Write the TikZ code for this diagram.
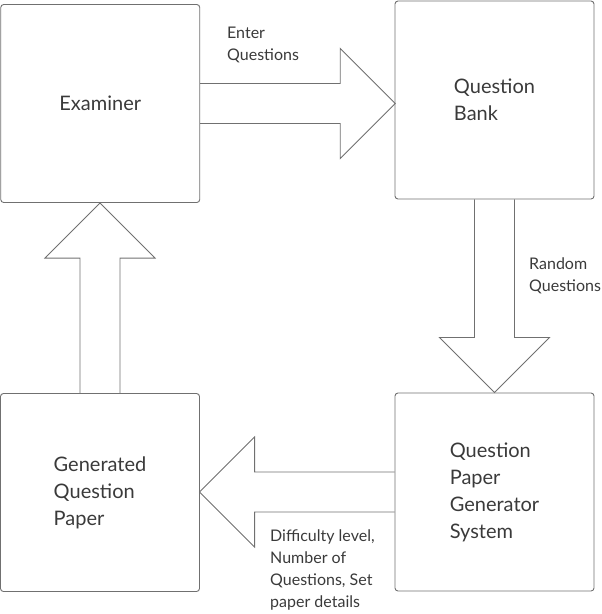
\documentclass[tikz,border=0pt]{standalone}
\usepackage{fontspec}
\setmainfont{Lato}
\usetikzlibrary{positioning,calc}
\definecolor{edgegray}{HTML}{707070}
\definecolor{textgray}{HTML}{3A3A3A}
\tikzset{
  box/.style={draw=edgegray, line width=0.9pt, rounded corners=3pt,
    minimum width=199pt, minimum height=198pt, inner sep=0pt,
    align=left, text=textgray, font=\fontsize{20}{27}\selectfont},
  blockarrow/.style={draw=edgegray, line width=0.9pt, line join=miter},
  note/.style={align=left, anchor=base west, inner sep=0pt,
    text=textgray, font=\fontsize{16}{22}\selectfont}
}

\begin{document}
\begin{tikzpicture}[x=1pt,y=-1pt]
\useasboundingbox (0,0) rectangle (602,614);
% the four blocks
\node[box] (exam) at (100.25,103.5) {Examiner};
\node[box] (qbank) at (494.5,100) {Question\\Bank};
\node[box] (qpgs) at (494.5,492) {Question\\Paper\\Generator\\System};
\node[box] (genq) at (100,492.5) {Generated\\Question\\Paper};
% block arrows
\draw[blockarrow] ($(exam.east)+(0,-20)$) -- ++(140,0) -- ++(0,-35) -- ++(55,55) -- ++(-55,55) -- ++(0,-35) -- ++(-140,0);
\draw[blockarrow] ($(qbank.south)+(-20,0)$) -- ++(0,138) -- ++(-35,0) -- ++(55,55) -- ++(55,-55) -- ++(-35,0) -- ++(0,-138);
\draw[blockarrow] ($(qpgs.west)+(0,-20)$) -- ++(-140,0) -- ++(0,-35) -- ++(-55,55) -- ++(55,55) -- ++(0,-35) -- ++(140,0);
\draw[blockarrow] ($(genq.north)+(-20,0)$) -- ++(0,-135) -- ++(-35,0) -- ++(55,-55) -- ++(55,55) -- ++(-35,0) -- ++(0,135);
% arrow labels (anchored on the last baseline)
\node[note] (enterq) at (227,60) {Enter\\Questions};
\node[note] (randq) at (529,291) {Random\\Questions};
\node[note] (details) at (270,607) {Difficulty level,\\Number of\\Questions, Set\\paper details};
\end{tikzpicture}
\end{document}
